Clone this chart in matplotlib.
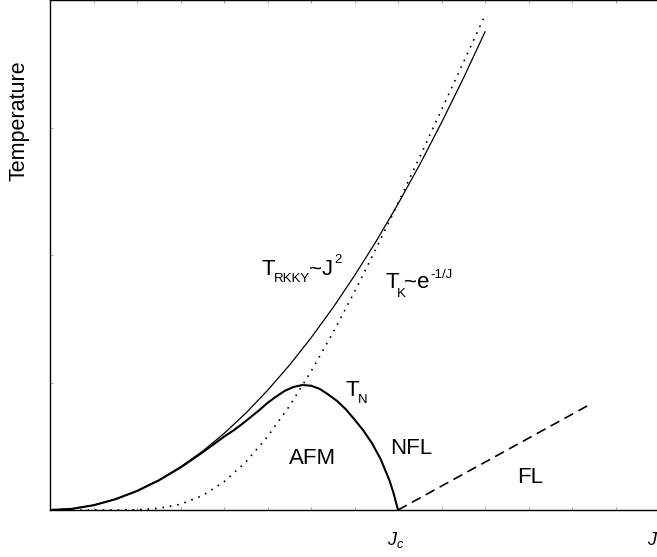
import matplotlib
matplotlib.use("Agg")
import matplotlib.pyplot as plt

plt.rcParams["font.family"] = ["Liberation Sans", "DejaVu Sans"]
plt.rcParams["mathtext.fontset"] = "custom"
plt.rcParams["mathtext.rm"] = "Liberation Sans"
plt.rcParams["mathtext.it"] = "Liberation Sans:italic"

# coupling J (arbitrary units, J_c = 8)
j_rkky = [0, 0.5, 1, 1.5, 2, 2.5, 3, 3.5, 4, 4.5, 5, 5.5, 6, 6.5, 7, 7.5, 8, 8.5, 9, 9.5, 10]
t_rkky = [0, 0.009, 0.038, 0.084, 0.15, 0.234, 0.338, 0.459, 0.60, 0.759, 0.938,
          1.134, 1.35, 1.584, 1.838, 2.109, 2.40, 2.709, 3.038, 3.384, 3.75]

j_kondo = [0, 0.5, 1, 1.5, 2, 2.5, 3, 3.5, 4, 4.5, 5, 5.5, 6, 6.5, 7, 7.5, 8, 8.5, 9, 9.5, 10]
t_kondo = [0, 0, 0, 0.0001, 0.002, 0.013, 0.045, 0.112, 0.221, 0.376, 0.575,
           0.813, 1.086, 1.388, 1.711, 2.053, 2.406, 2.769, 3.139, 3.508, 3.88]

j_neel = [0, 0.5, 1, 1.5, 2, 2.5, 3, 3.5, 4.0, 4.2, 4.4, 4.6, 4.8, 5.0, 5.2, 5.4,
          5.6, 5.8, 6.0, 6.2, 6.4, 6.6, 6.8, 7.0, 7.2, 7.4, 7.6, 7.8, 7.9, 8.0]
t_neel = [0, 0.009, 0.037, 0.084, 0.149, 0.232, 0.333, 0.45, 0.575, 0.62, 0.67,
          0.725, 0.78, 0.84, 0.89, 0.935, 0.965, 0.98, 0.975, 0.95, 0.905, 0.855,
          0.79, 0.71, 0.625, 0.525, 0.40, 0.235, 0.13, 0]

j_fl = [8.0, 12.37]
t_fl = [0, 0.82]

W, H = 657, 557
fig = plt.figure(figsize=(W / 100, H / 100), dpi=100)
# axes run past the right edge of the picture, like the cropped original
ax = fig.add_axes([50 / W, 47 / H, 696 / W, 510 / H])

ax.plot(j_rkky, t_rkky, color="black", lw=0.9)
ax.plot(j_kondo, t_kondo, color="black", lw=1.2, linestyle=(0, (1, 3.5)))
ax.plot(j_neel, t_neel, color="black", lw=1.5)
ax.plot(j_fl, t_fl, color="black", lw=1.2, dashes=(6, 3.5))

ax.set_xlim(0, 16)
ax.set_ylim(0, 4)
ax.set_xticks(range(1, 16))
ax.set_yticks([1, 2, 3])
ax.tick_params(direction="in", length=2, width=0.5, color="grey",
               top=True, right=True, labelbottom=False, labelleft=False)
for s in ax.spines.values():
    s.set_linewidth(1.0)


def label(px, py, s, size=16, **kw):
    # px, py: left / baseline position in pixels from the top-left corner
    fig.text(px / W, 1 - py / H, s, fontsize=size, va="baseline", **kw)


# T_RKKY ~ J^2
label(262, 275, "T")
label(274, 282, "RKKY", 9.5)
label(309, 275, "~J")
label(334, 263, "2", 9.5)
# T_K ~ e^-1/J
label(385, 288, "T")
label(397, 297, "K", 9.5)
label(404, 288, "~e")
label(430, 278, "-1/J", 9.5)
# T_N
label(345, 396, "T")
label(358, 403, "N", 9.5)

label(313, 464, "AFM", ha="center")
label(390, 454, "NFL")
label(517, 483, "FL")
label(387, 545, r"$J_c$", 13)
label(647, 545, r"$J$", 13)

fig.text(19 / W, 1 - 121 / H, "Temperature", rotation=90, fontsize=15.5,
         ha="center", va="center")

fig.savefig("out.png", dpi=100)
